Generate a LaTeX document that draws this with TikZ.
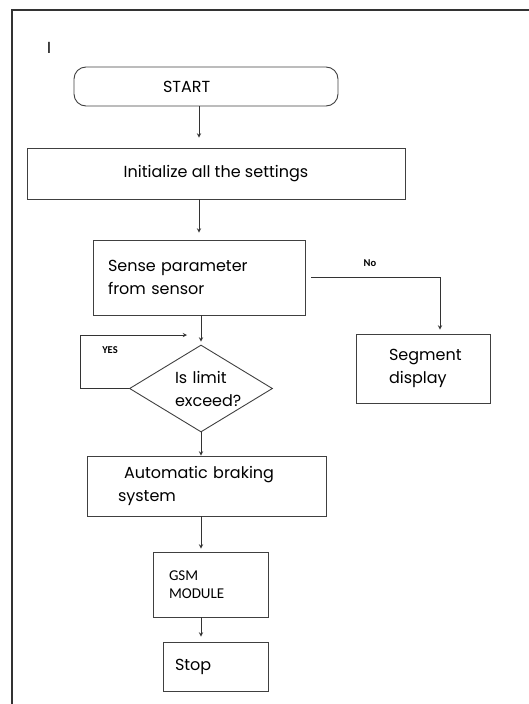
\documentclass[tikz,border=0pt]{standalone}
\usepackage{fontspec}
\setmainfont{Poppins}
\newfontfamily\lblfont{Carlito}
\usetikzlibrary{shapes.geometric}
\begin{document}
\begin{tikzpicture}[x=1pt,y=-1pt,line width=0.9pt,
  box/.style={draw=black!75,rectangle,inner sep=0pt,align=left,font=\fontsize{16}{23}\selectfont},
  arr/.style={draw=black!80,-stealth},
  lbl/.style={inner sep=0pt,font=\lblfont\bfseries\fontsize{10.5}{12}\selectfont}]
\useasboundingbox (0,0) rectangle (529,704);
\draw[line width=1.3pt,black!80](12,704)--(12,10)--(529,10);
\node[inner sep=0pt,font=\fontsize{16}{16}\selectfont](cur) at (49,48){I};
\node[box,rounded corners=12pt,minimum width=264,minimum height=39,text width=86](start) at (206,86.5){START};
\node[box,minimum width=378,minimum height=51,align=center](init) at (216,173.5){Initialize all the settings};
\node[box,minimum width=212,minimum height=75,text width=182](sense) at (199,277.5){Sense parameter\\from sensor};
\node[box,minimum width=134,minimum height=69,text width=68](seg) at (423,368.5){Segment\\display};
\node[box,diamond,aspect=1.64,minimum width=143,minimum height=87,text width=52](dia) at (201,388.5){Is limit\\exceed?};
\node[box,minimum width=239,minimum height=60,text width=177](auto) at (206.5,486){\hspace*{6pt}Automatic braking\\system};
\node[box,minimum width=115,minimum height=65,text width=83,font=\lblfont\fontsize{15}{18}\selectfont](gsm) at (210.5,584.5){GSM\\MODULE};
\node[box,minimum width=105,minimum height=49,text width=81](stop) at (215.5,666.5){Stop};
\node[lbl](no) at (370,263){No};
\node[lbl](yes) at (110,350){YES};
\coordinate (yesin) at (187,335);
\draw[arr,shorten >=10pt](start.south -| sense.north)--(init.north -| sense.north);
\draw[arr,shorten >=7pt](init.south -| sense.north)--(sense.north);
\draw[arr,shorten >=3pt](sense.south -| dia.north)--(dia.north);
\draw[arr](dia.south)--(dia.south |- auto.north);
\draw[arr,shorten >=3pt](auto.south -| dia.south)--(gsm.north -| dia.south);
\draw[arr,shorten >=5pt](gsm.south -| dia.south)--(stop.north -| dia.south);
\draw[arr,shorten >=4pt]([xshift=6pt]sense.east)-|([xshift=17pt]seg.north);
\draw[arr](dia.west)--++(-49,0)|-(yesin);
\end{tikzpicture}
\end{document}
